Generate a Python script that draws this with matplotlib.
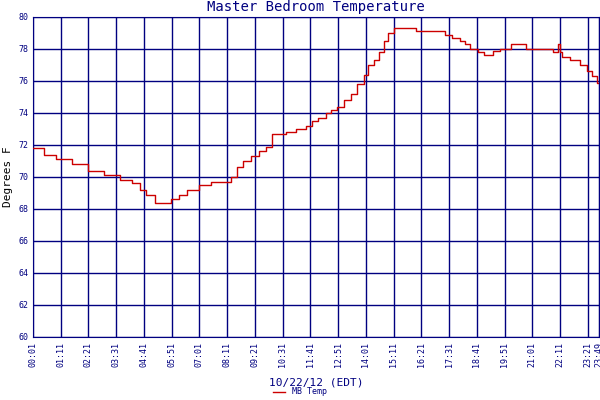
import matplotlib
matplotlib.use("Agg")
import matplotlib.pyplot as plt

minutes = [1, 30, 60, 100, 140, 180, 220, 250, 270, 285, 310, 330, 350, 370, 390, 420, 450, 490, 500, 515,
           530, 550, 570, 590, 605, 640, 665, 690, 705, 720, 740, 753, 769, 786, 803, 819, 836, 846, 861,
           873, 886, 896, 911, 967, 1040, 1059, 1078, 1090, 1103, 1123, 1138, 1161, 1178, 1207, 1244,
           1313, 1326, 1330, 1336, 1355, 1381, 1398, 1411, 1423, 1429]
temps = [71.8, 71.4, 71.1, 70.8, 70.4, 70.1, 69.8, 69.6, 69.2, 68.9, 68.4, 68.4, 68.6, 68.9, 69.2, 69.5, 69.7, 69.7, 70.0, 70.6,
         71.0, 71.3, 71.6, 71.9, 72.7, 72.8, 73.0, 73.2, 73.5, 73.7, 74.0, 74.2, 74.4, 74.8, 75.2, 75.8, 76.4, 77.0, 77.3,
         77.8, 78.5, 79.0, 79.3, 79.1, 78.9, 78.7, 78.5, 78.3, 78.0, 77.8, 77.6, 77.9, 78.0, 78.3, 78.0,
         77.8, 78.3, 77.8, 77.5, 77.3, 77.0, 76.6, 76.3, 75.9, 75.9]
tick_labels = ["00:01", "01:11", "02:21", "03:31", "04:41", "05:51", "07:01", "08:11", "09:21", "10:31",
               "11:41", "12:51", "14:01", "15:11", "16:21", "17:31", "18:41", "19:51", "21:01", "22:11",
               "23:21", "23:49"]
tick_pos = [1 + 70 * i for i in range(21)] + [1429]

navy = "#000080"
plt.rcParams['font.family'] = ['DejaVu Sans Mono']
fig = plt.figure(figsize=(6, 4), dpi=100)
ax = fig.add_axes([33/600, 63/400, 566/600, 320/400])
ax.step(minutes, temps, where="post", color="#cc0000", lw=1.0, label="MB Temp", zorder=3)
ax.set_xlim(1, 1429)
ax.set_ylim(60, 80)
ax.set_yticks(range(60, 81, 2))
ax.set_xticks(tick_pos)
ax.set_xticklabels(tick_labels, rotation=90, fontsize=6, color=navy)
ax.tick_params(axis='y', labelsize=6, labelcolor=navy, length=0)
ax.tick_params(axis='x', length=0)
ax.grid(True, color=navy, lw=1)
for s in ax.spines.values():
    s.set_color(navy)
ax.set_title("Master Bedroom Temperature", fontsize=10, color=navy, pad=4)
ax.set_ylabel("Degrees F", fontsize=8, color="black", labelpad=4)
ax.set_xlabel("10/22/12 (EDT)", fontsize=8, color=navy, labelpad=8)
fig.legend(loc="lower center", bbox_to_anchor=(0.5, -0.01), frameon=False, fontsize=6,
           handlelength=1.5, labelcolor=navy)
fig.savefig("out.png")
